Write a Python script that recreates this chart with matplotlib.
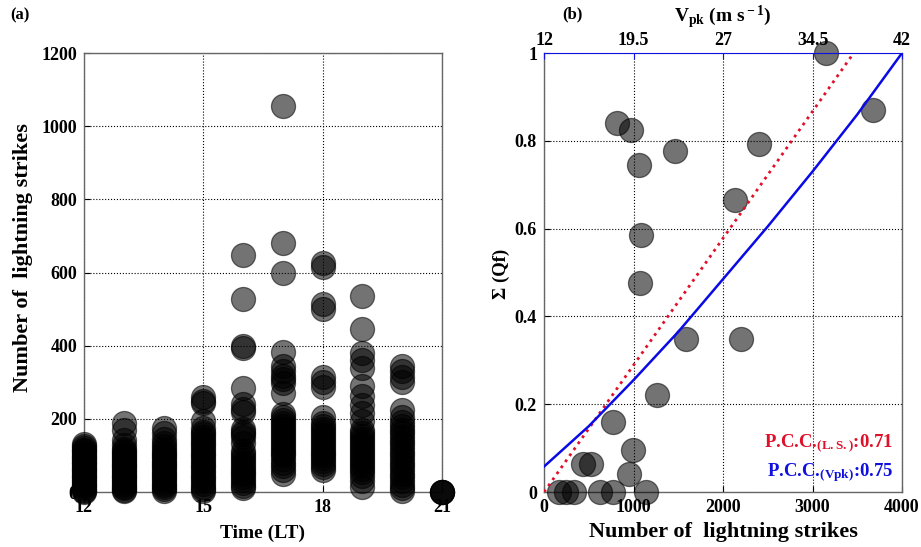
import matplotlib
matplotlib.use("Agg")
import matplotlib.pyplot as plt

plt.rcParams['font.family'] = ['Liberation Serif', 'DejaVu Serif']
plt.rcParams['font.weight'] = 'bold'
plt.rcParams['axes.labelweight'] = 'bold'
plt.rcParams['mathtext.fontset'] = 'custom'
plt.rcParams['mathtext.rm'] = 'Liberation Serif:bold'
plt.rcParams['mathtext.it'] = 'Liberation Serif:bold'
plt.rcParams['mathtext.bf'] = 'Liberation Serif:bold'

# (a) lightning strikes per hour (LT)
hours = [12, 13, 14, 15, 16, 17, 18, 19, 20, 21]
strikes = {
    12: [130, 126, 121, 116, 112, 107, 102, 97, 92, 88, 83, 78, 73, 68, 64, 59, 54, 49, 44,
         40, 35, 30, 25, 20, 16, 11, 6, 3, 0],
    13: [190, 170, 142, 128, 118, 112, 106, 100, 95, 90, 85, 80, 75, 70, 65, 60, 55, 50, 45,
         40, 35, 30, 25, 20, 15, 10, 6, 2],
    14: [175, 160, 145, 135, 125, 118, 110, 104, 98, 92, 86, 80, 74, 68, 62, 56, 50, 44, 38,
         32, 26, 20, 14, 9, 4],
    15: [260, 250, 242, 195, 175, 165, 158, 150, 143, 135, 128, 120, 113, 105, 98, 90, 83, 75,
         68, 60, 53, 45, 38, 30, 23, 15, 8, 3],
    16: [648, 528, 400, 394, 285, 240, 228, 218, 172, 165, 158, 150, 135, 112, 104, 96, 88, 80,
         72, 64, 56, 48, 40, 32, 24, 16, 10],
    17: [1056, 680, 598, 383, 345, 330, 318, 308, 298, 270, 212, 204, 196, 188, 180, 172, 164,
         156, 148, 140, 132, 124, 116, 108, 100, 90, 80, 70, 60, 50],
    18: [626, 614, 515, 500, 314, 300, 287, 205, 190, 180, 172, 164, 156, 148, 140, 132, 124,
         116, 108, 100, 92, 84, 76, 68, 60],
    19: [536, 445, 380, 360, 340, 290, 262, 238, 216, 195, 170, 160, 152, 144, 136, 128, 120,
         112, 104, 96, 88, 80, 72, 64, 56, 45, 30, 14],
    20: [345, 332, 315, 300, 225, 205, 192, 180, 170, 160, 150, 140, 130, 120, 110, 100, 90, 80,
         70, 60, 50, 40, 30, 20, 10, 3],
    21: [0, 0, 0, 0],
}

# (b) Sigma(Qf) vs number of lightning strikes
n_strikes = [3150, 3680, 815, 970, 1465, 2400, 1060, 2135, 1085, 1075, 1590, 2200, 1265,
             770, 995, 950, 435, 525, 170, 250, 330, 622, 773, 1140]
sum_qf = [1.0, 0.870, 0.841, 0.825, 0.777, 0.793, 0.745, 0.665, 0.586, 0.476, 0.348, 0.348,
          0.221, 0.160, 0.096, 0.041, 0.064, 0.064, 0, 0, 0, 0, 0, 0]
ls_fit_x = [0, 3460]
ls_fit_y = [0, 1.0]
vpk_fit_x = [0, 500, 1000, 1500, 2000, 2500, 3000, 3500, 4000]
vpk_fit_y = [0.058, 0.150, 0.255, 0.365, 0.485, 0.605, 0.730, 0.860, 1.0]
vpk_ticks = [12, 19.5, 27, 34.5, 42]
vpk_labels = ['12', '19.5', '27', '34.5', '42']

fig = plt.figure(figsize=(9.21, 5.47), dpi=100)
ax1 = fig.add_axes([0.0912, 0.1005, 0.3887, 0.8026])
ax2 = fig.add_axes([0.5907, 0.1005, 0.3887, 0.8026])

marker = dict(s=300, facecolor='black', edgecolor='black', alpha=0.55,
              linewidths=0.9, clip_on=False, zorder=3)

for h in hours:
    ax1.scatter([h] * len(strikes[h]), strikes[h], **marker)
ax1.set_xlim(12, 21)
ax1.set_ylim(0, 1200)
ax1.set_xticks([12, 15, 18, 21])
ax1.set_yticks(range(0, 1201, 200))
ax1.set_xlabel('Time (LT)', fontsize=14, labelpad=6)
ax1.set_ylabel('Number of  lightning strikes', fontsize=16)
ax1.yaxis.set_label_coords(-0.142, 0.533)

ax2.scatter(n_strikes, sum_qf, **marker)
ax2.plot(ls_fit_x, ls_fit_y, color='#e0102a', lw=2, ls=':', zorder=4)
ax2.plot(vpk_fit_x, vpk_fit_y, color='#0a0ae6', lw=1.8, zorder=4)
ax2.set_xlim(0, 4000)
ax2.set_ylim(0, 1)
ax2.set_xticks(range(0, 4001, 1000))
ax2.set_yticks([0, 0.2, 0.4, 0.6, 0.8, 1])
ax2.set_yticklabels(['0', '0.2', '0.4', '0.6', '0.8', '1'])
ax2.set_xlabel('Number of  lightning strikes', fontsize=16, labelpad=4)
ax2.set_ylabel('Σ (Qf)', fontsize=13.5)
ax2.yaxis.set_label_coords(-0.095, 0.497)
ax2.text(0.975, 0.112, 'P.C.C.$_{\\rm (L.S.)}$:0.71', color='#e0102a', fontsize=13.5,
         ha='right', va='center', transform=ax2.transAxes)
ax2.text(0.975, 0.043, 'P.C.C.$_{\\rm (Vpk)}$:0.75', color='#1010e0', fontsize=13.5,
         ha='right', va='center', transform=ax2.transAxes)

top = ax2.twiny()
top.set_xlim(vpk_ticks[0], vpk_ticks[-1])
top.set_xticks(vpk_ticks)
top.set_xticklabels(vpk_labels)
top.set_xlabel('V$_{\\rm pk}$ (m s$^{\\rm -1}$)', fontsize=14, labelpad=7)
top.spines['top'].set_color('#1010e0')
for s in ['left', 'right', 'bottom']:
    top.spines[s].set_visible(False)
top.tick_params(axis='x', direction='in', length=4, labelsize=13, pad=3, color='#1010e0')

for ax in (ax1, ax2):
    ax.grid(True, ls=':', color='black', lw=0.8)
    ax.set_axisbelow(True)
    for s in ax.spines.values():
        s.set_color('#666666')
        s.set_linewidth(1.0)
    ax.tick_params(direction='in', length=4, labelsize=13, pad=5)
ax2.spines['top'].set_visible(False)

fig.text(10 / 921, 1 - 15 / 547, '(a)', fontsize=12, va='center')
fig.text(562 / 921, 1 - 14 / 547, '(b)', fontsize=12, va='center')

fig.savefig('out.png', dpi=100)
